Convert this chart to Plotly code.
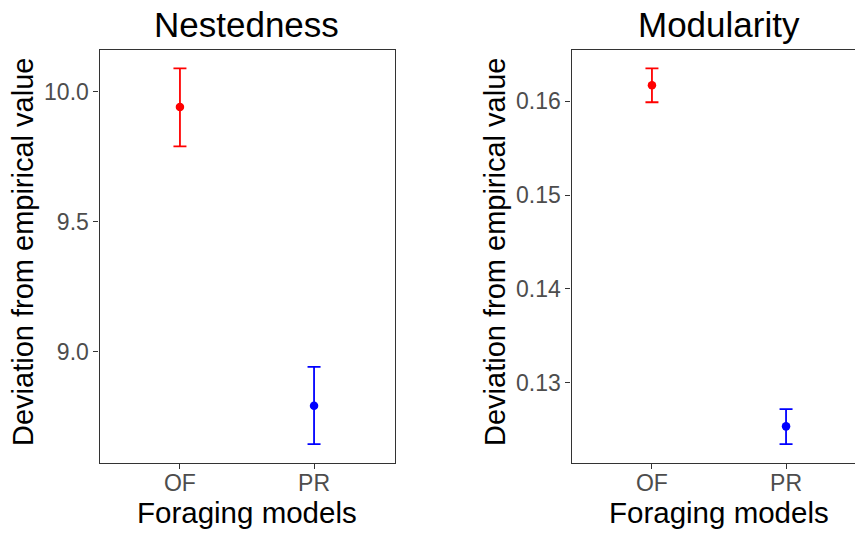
import plotly.graph_objects as go

# ---- data ----
models = ["OF", "PR"]
colors = ["#FF0000", "#0000FF"]

nest_mean = [9.940, 8.793]
nest_upper = [10.089, 8.942]
nest_lower = [9.789, 8.645]

mod_mean = [0.16170, 0.12535]
mod_upper = [0.16350, 0.12718]
mod_lower = [0.15988, 0.12345]

nest_ticks = [9.0, 9.5, 10.0]
nest_ticklabels = ["9.0", "9.5", "10.0"]
mod_ticks = [0.13, 0.14, 0.15, 0.16]
mod_ticklabels = ["0.13", "0.14", "0.15", "0.16"]

W, H = 855, 533
FONT = "Liberation Sans, Arial, sans-serif"
FRAME = "#333333"
TICKCOL = "#4D4D4D"

fig = go.Figure()

def add_panel(fig, mean, upper, lower, xa, ya):
    for i, m in enumerate(models):
        fig.add_trace(go.Scatter(
            x=[i + 1], y=[mean[i]], mode="markers",
            marker=dict(color=colors[i], size=8.5),
            error_y=dict(type="data", symmetric=False,
                         array=[upper[i] - mean[i]],
                         arrayminus=[mean[i] - lower[i]],
                         color=colors[i], thickness=1.8, width=6.5),
            xaxis=xa, yaxis=ya, showlegend=False, hoverinfo="skip"))

add_panel(fig, nest_mean, nest_upper, nest_lower, "x", "y")
add_panel(fig, mod_mean, mod_upper, mod_lower, "x2", "y2")

def expanded(lo_vals, hi_vals):
    lo, hi = min(lo_vals), max(hi_vals)
    pad = (hi - lo) * 0.05
    return [lo - pad, hi + pad]

left_x0, left_x1 = 99.5, 394.5
right_x0 = 571.5
y_top, y_bot = 49.5, 463
px_per_unit = (left_x1 - left_x0) / 2.2
right_xmax = 0.4 + (W - right_x0) / px_per_unit

ydom = [(H - y_bot) / H, (H - y_top) / H]

axis_common = dict(showline=True, linecolor=FRAME, linewidth=1.1,
                   ticks="outside", ticklen=5, tickwidth=1.1, tickcolor=FRAME,
                   showgrid=False, zeroline=False,
                   tickfont=dict(family=FONT, size=23, color=TICKCOL))

fig.update_layout(
    width=W, height=H,
    margin=dict(l=0, r=0, t=0, b=0),
    paper_bgcolor="white", plot_bgcolor="white",
    xaxis=dict(domain=[left_x0 / W, left_x1 / W], range=[0.4, 2.6],
               tickvals=[1, 2], ticktext=models, mirror=True, anchor="y",
               ticklabelstandoff=-6, **axis_common),
    yaxis=dict(domain=ydom, range=expanded(nest_lower, nest_upper),
               tickvals=nest_ticks, ticktext=nest_ticklabels, mirror=True,
               anchor="x", **axis_common),
    xaxis2=dict(domain=[right_x0 / W, 1.0], range=[0.4, right_xmax],
                tickvals=[1, 2], ticktext=models, mirror=True, anchor="y2",
                ticklabelstandoff=-6, **axis_common),
    yaxis2=dict(domain=ydom, range=expanded(mod_lower, mod_upper),
                tickvals=mod_ticks, ticktext=mod_ticklabels, mirror=False,
                anchor="x2", **axis_common),
)

def ann(text, x, y, size, angle=0):
    fig.add_annotation(text=text, x=x / W, y=1 - y / H, xref="paper", yref="paper",
                       showarrow=False, textangle=angle,
                       xanchor="center", yanchor="middle",
                       font=dict(family=FONT, size=size, color="black"))

left_cx = (left_x0 + left_x1) / 2
right_cx = right_x0 + 1.1 * px_per_unit

ann("Nestedness", left_cx, 24, 35)
ann("Modularity", right_cx, 24, 35)
ann("Foraging models", left_cx, 512, 29.5)
ann("Foraging models", right_cx, 512, 29.5)
ann("Deviation from empirical value", 23, 252, 29, -90)
ann("Deviation from empirical value", 495, 252, 29, -90)

fig.write_html("out.html")
